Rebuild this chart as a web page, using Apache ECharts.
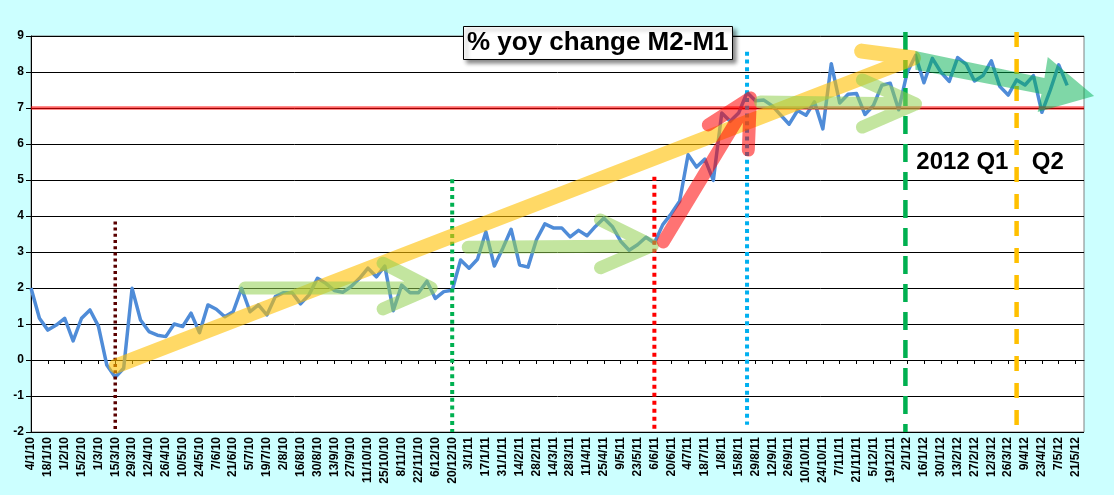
<!DOCTYPE html>
<html>
<head>
<meta charset="utf-8">
<script src="https://cdn.jsdelivr.net/npm/echarts@6/dist/echarts.min.js"></script>
<style>
html,body{margin:0;padding:0;background:#ccffff;}
#c{width:1114px;height:495px;}
</style>
</head>
<body>
<div id="c"></div>
<script>
// ---- categories (weekly, Mondays) ----
const weeks2010 = ['4/1','11/1','18/1','25/1','1/2','8/2','15/2','22/2','1/3','8/3','15/3','22/3','29/3','5/4','12/4','19/4','26/4','3/5','10/5','17/5','24/5','31/5','7/6','14/6','21/6','28/6','5/7','12/7','19/7','26/7','2/8','9/8','16/8','23/8','30/8','6/9','13/9','20/9','27/9','4/10','11/10','18/10','25/10','1/11','8/11','15/11','22/11','29/11','6/12','13/12','20/12','27/12'];
const weeks2011 = ['3/1','10/1','17/1','24/1','31/1','7/2','14/2','21/2','28/2','7/3','14/3','21/3','28/3','4/4','11/4','18/4','25/4','2/5','9/5','16/5','23/5','30/5','6/6','13/6','20/6','27/6','4/7','11/7','18/7','25/7','1/8','8/8','15/8','22/8','29/8','5/9','12/9','19/9','26/9','3/10','10/10','17/10','24/10','31/10','7/11','14/11','21/11','28/11','5/12','12/12','19/12','26/12'];
const weeks2012 = ['2/1','9/1','16/1','23/1','30/1','6/2','13/2','20/2','27/2','5/3','12/3','19/3','26/3','2/4','9/4','16/4','23/4','30/4','7/5','14/5','21/5','28/5'];
const categories = [].concat(
  weeks2010.map(d => d + '/10'),
  weeks2011.map(d => d + '/11'),
  weeks2012.map(d => d + '/12')
);

// ---- series values: % yoy change M2-M1 ----
const m2m1Values = [
  2.0, 1.16, 0.83, 0.97, 1.16, 0.53, 1.16, 1.39, 0.94, -0.14,
  -0.48, -0.23, 1.99, 1.11, 0.79, 0.69, 0.65, 1.0, 0.93, 1.3,
  0.76, 1.53, 1.41, 1.2, 1.34, 1.99, 1.34, 1.53, 1.25, 1.76,
  1.87, 1.87, 1.56, 1.81, 2.27, 2.13, 1.93, 1.88, 2.04, 2.27,
  2.55, 2.31, 2.61, 1.37, 2.08, 1.87, 1.87, 2.19, 1.71, 1.9,
  1.94, 2.78, 2.55, 2.8, 3.56, 2.61, 3.1, 3.63, 2.64, 2.58,
  3.34, 3.78, 3.67, 3.67, 3.42, 3.6, 3.45, 3.71, 3.94, 3.71,
  3.3, 3.05, 3.2, 3.41, 3.25, 3.76, 4.06, 4.41, 5.7, 5.36,
  5.58, 4.99, 6.86, 6.63, 6.86, 7.43, 7.2, 7.22, 7.06, 6.8,
  6.55, 6.93, 6.8, 7.17, 6.42, 8.23, 7.14, 7.38, 7.4, 6.82,
  7.07, 7.63, 7.69, 6.95, 7.98, 8.46, 7.7, 8.38, 8.0, 7.74,
  8.4, 8.22, 7.75, 7.9, 8.31, 7.6, 7.36, 7.78, 7.64, 7.9,
  6.88, 7.5, 8.2, 7.63
];

// ---- y-axis ----
const yMin = -2, yMax = 9, yStep = 1;

// ---- annotations (week index, value) ----
const refLevel = 7;
const vLineAt  = [10, 50, 74, 85, 103.8, 117];
const vLineTop = [3.85, 5.02, 5.09, 8.56, 9.11, 9.11];
const vLineBottom = [-2, -2, -2, -1.8, -2, -2];

const arrowYellow = [[[10.1,-0.17],[104.75,8.39]], [[98.6,8.58],[104.75,8.39]]];
const arrowGreenA = [[[25.4,2.0],[47.5,2.0]], [[41.8,2.69],[47.5,2.0],[41.8,1.42]]];
const arrowGreenB = [[[51.9,3.13],[73.75,3.17]], [[67.6,3.89],[73.75,3.18],[67.6,2.56]]];
const arrowRed    = [[[75.06,3.28],[85.4,7.28]], [[80.4,6.53],[85.4,7.28],[85.15,5.83]]];
const arrowGreenC = [[[86.6,7.17],[105,7.11]], [[98.7,7.78],[105,7.11],[98.7,6.47]]];
const arrowDarkGreen = [[104.99,8.58],[120.3,7.83],[120.7,8.42],[126.2,7.33],[119.5,6.89],[119.95,7.39],[104.99,8.06]];
const quarterLabels = ['2012 Q1', 'Q2'];
const quarterLabelAt = [[105.1, 5.5], [118.8, 5.5]];

const FONT = '"Liberation Sans", Arial, sans-serif';

function renderAnnotations(params, api) {
  const P = (p) => api.coord(p);
  const children = [];
  // horizontal red line at 7
  const a = P([0, refLevel]), b = P([125, refLevel]);
  children.push({type:'line', shape:{x1:a[0], y1:a[1], x2:b[0], y2:b[1]},
    style:{stroke:'rgba(255,0,0,0.6)', lineWidth:3.5}});
  // vertical lines
  const vStyles = [
    {stroke:'#5a0000', lineWidth:3.5, lineDash:[3,3.2]},
    {stroke:'#00b050', lineWidth:4, lineDash:[4,3.8]},
    {stroke:'#ff0000', lineWidth:4, lineDash:[4,4]},
    {stroke:'#00b0f0', lineWidth:4, lineDash:[4,3.7]},
    {stroke:'#00b050', lineWidth:4.5, lineDash:[18,10]},
    {stroke:'#ffc000', lineWidth:4.5, lineDash:[15,12]}
  ];
  vLineAt.forEach((x, i) => {
    const t = P([x, vLineTop[i]]), btm = P([x, vLineBottom[i]]);
    children.push({type:'line', shape:{x1:t[0], y1:t[1], x2:btm[0], y2:btm[1]}, style:vStyles[i]});
  });
  // stroke arrows
  const toPath = (lines) => lines.map(l => l.map((p, k) => {
    const q = P(p); return (k ? 'L' : 'M') + q[0].toFixed(1) + ' ' + q[1].toFixed(1);
  }).join(' ')).join(' ');
  const strokeArrows = [
    [arrowYellow, 'rgba(255,192,0,0.6)', 15],
    [arrowGreenA, 'rgba(146,208,80,0.55)', 13],
    [arrowGreenB, 'rgba(146,208,80,0.55)', 13],
    [arrowRed, 'rgba(255,0,0,0.55)', 13],
    [arrowGreenC, 'rgba(146,208,80,0.55)', 13]
  ];
  strokeArrows.forEach(([lines, color, w]) => {
    children.push({type:'path', shape:{pathData: toPath(lines)},
      style:{stroke:color, lineWidth:w, fill:'none', lineCap:'round', lineJoin:'round'}});
  });
  // block arrow
  children.push({type:'polygon', shape:{points: arrowDarkGreen.map(P)},
    style:{fill:'rgba(0,176,80,0.5)'}});
  // quarter labels
  quarterLabels.forEach((t, i) => {
    const p = P(quarterLabelAt[i]);
    children.push({type:'text', x:p[0], y:p[1], style:{text:t, fontSize:24, fontWeight:'bold',
      fontFamily:FONT, fill:'#000', align:'left', verticalAlign:'middle'}});
  });
  return {type:'group', children};
}

const chart = echarts.init(document.getElementById('c'), null, {renderer:'canvas'});
chart.setOption({
  backgroundColor:'#ccffff',
  animation:false,
  title:{
    text:'% yoy change M2-M1',
    left:463, top:26,
    padding:[1,4,1,4],
    backgroundColor:'#ffffff',
    borderColor:'#000', borderWidth:1,
    shadowColor:'rgba(0,0,0,0.45)', shadowBlur:4, shadowOffsetX:3, shadowOffsetY:3,
    textStyle:{fontSize:26, fontWeight:'bold', fontFamily:FONT, color:'#000', lineHeight:32}
  },
  grid:{left:31, right:30, top:36, bottom:63, show:true, backgroundColor:'#ffffff',
    borderColor:'#808080', borderWidth:1},
  xAxis:[{
    type:'category', data:categories, boundaryGap:false,
    axisLine:{lineStyle:{color:'#000', width:1}},
    axisTick:{show:true, interval:1, length:4, lineStyle:{color:'#000'}},
    axisLabel:{interval:1, rotate:90, fontSize:12, fontWeight:'bold', fontFamily:FONT, color:'#000', margin:5},
    splitLine:{show:false}
  },{
    type:'value', min:0, max:125, show:false
  }],
  yAxis:{
    type:'value', min:yMin, max:yMax, interval:yStep,
    axisLine:{show:true, lineStyle:{color:'#000', width:1}},
    axisTick:{show:true, length:5, lineStyle:{color:'#000'}},
    axisLabel:{fontSize:12, fontWeight:'bold', fontFamily:FONT, color:'#000', margin:7},
    splitLine:{show:true, lineStyle:{color:'#000', width:1}}
  },
  series:[{
    type:'line', data:m2m1Values, xAxisIndex:0, symbol:'none', z:2,
    lineStyle:{color:'#4f8cd8', width:3.5, join:'round'}
  },{
    type:'custom', xAxisIndex:1, yAxisIndex:0, z:3, clip:false, silent:true,
    data:[[0,0]], renderItem:renderAnnotations
  }]
});
</script>
</body>
</html>
